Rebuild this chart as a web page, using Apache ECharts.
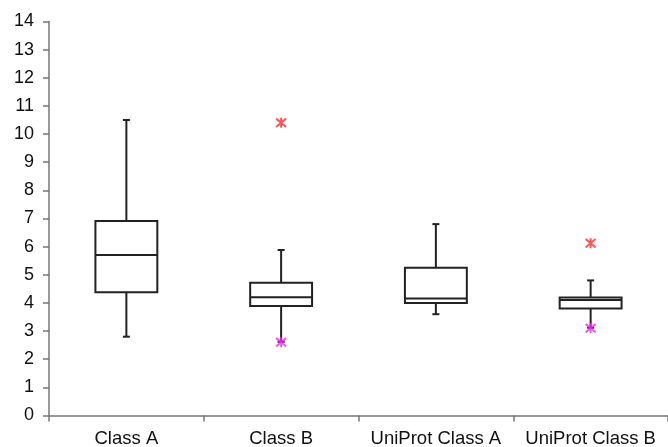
<!DOCTYPE html>
<html>
<head>
<meta charset="utf-8">
<script src="https://cdn.jsdelivr.net/npm/echarts@6/dist/echarts.min.js"></script>
<style>html,body{margin:0;padding:0;background:#fff;}#c{width:668px;height:447px;}</style>
</head>
<body>
<div id="c"></div>
<script>
var categories = ['Class A', 'Class B', 'UniProt Class A', 'UniProt Class B'];
// [low whisker, Q1, median, Q3, high whisker]
var boxA = [2.80, 4.38, 5.70, 6.91, 10.50];
var boxB = [2.62, 3.89, 4.20, 4.72, 5.88];
var boxUA = [3.60, 4.00, 4.16, 5.25, 6.80];
var boxUB = [3.12, 3.80, 4.10, 4.19, 4.80];
var maxOutliers = [[1, 10.40], [3, 6.12]];
var minOutliers = [[1, 2.60], [3, 3.10]];
var yTicks = [0, 14, 1];

var boxes = [boxA, boxB, boxUA, boxUB].map(function (b, i) { return [i].concat(b); });

var chart = echarts.init(document.getElementById('c'), null, {renderer: 'canvas'});
var font = '"Liberation Sans", Arial, sans-serif';
var star = 'path://M0,-5L0,5M-4.2,-4.2L4.2,4.2M-4.2,4.2L4.2,-4.2';

chart.setOption({
  animation: false,
  backgroundColor: '#fff',
  grid: {left: 49, right: 0, top: 21.5, bottom: 31.5, outerBoundsMode: 'none'},
  xAxis: {
    type: 'category', data: categories,
    axisLine: {lineStyle: {color: '#777', width: 1.5}},
    axisTick: {show: true, length: 6, lineStyle: {color: '#777', width: 1.5}},
    axisLabel: {interval: 0, color: '#111', fontSize: 18.5, fontFamily: font, margin: 14},
    splitLine: {show: false}
  },
  yAxis: {
    type: 'value', min: yTicks[0], max: yTicks[1], interval: yTicks[2],
    axisLine: {show: true, lineStyle: {color: '#777', width: 1.5}},
    axisTick: {show: true, length: 6, lineStyle: {color: '#777', width: 1.5}},
    axisLabel: {color: '#111', fontSize: 18, fontFamily: font, margin: 15},
    splitLine: {show: false}
  },
  series: [
    {
      type: 'custom', data: boxes,
      encode: {x: 0, y: [1, 2, 3, 4, 5]},
      renderItem: function (params, api) {
        var idx = api.value(0);
        var bw = api.size([1, 0])[0] * 0.4;
        var cap = 7;
        var pLow = api.coord([idx, api.value(1)]);
        var pQ1 = api.coord([idx, api.value(2)]);
        var pMed = api.coord([idx, api.value(3)]);
        var pQ3 = api.coord([idx, api.value(4)]);
        var pHigh = api.coord([idx, api.value(5)]);
        var x = pMed[0];
        var st = {stroke: '#222', lineWidth: 2, fill: 'none'};
        return {
          type: 'group',
          children: [
            {type: 'line', shape: {x1: x, y1: pQ3[1], x2: x, y2: pHigh[1]}, style: st},
            {type: 'line', shape: {x1: x, y1: pQ1[1], x2: x, y2: pLow[1]}, style: st},
            {type: 'line', shape: {x1: x - cap / 2, y1: pHigh[1], x2: x + cap / 2, y2: pHigh[1]}, style: st},
            {type: 'line', shape: {x1: x - cap / 2, y1: pLow[1], x2: x + cap / 2, y2: pLow[1]}, style: st},
            {type: 'rect', shape: {x: x - bw / 2, y: pQ3[1], width: bw, height: pQ1[1] - pQ3[1]},
             style: {stroke: '#222', lineWidth: 2, fill: '#fff'}},
            {type: 'line', shape: {x1: x - bw / 2, y1: pMed[1], x2: x + bw / 2, y2: pMed[1]}, style: st}
          ]
        };
      }
    },
    {type: 'scatter', data: maxOutliers, symbol: star, symbolSize: 10,
     itemStyle: {color: 'none', borderColor: '#ff2a2a', borderWidth: 2}},
    {type: 'scatter', data: minOutliers, symbol: star, symbolSize: 10,
     itemStyle: {color: 'none', borderColor: '#ff22ff', borderWidth: 2}}
  ]
});
</script>
</body>
</html>
